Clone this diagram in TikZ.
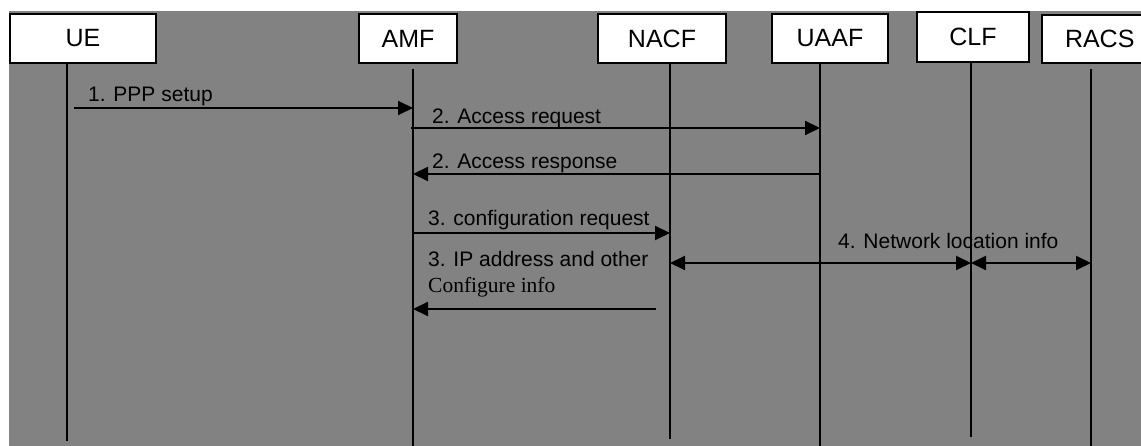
\documentclass[tikz,border=0pt]{standalone}
\usepackage{fontspec}
\setmainfont{Liberation Sans}
\newfontfamily\serifft{Liberation Serif}
\usetikzlibrary{arrows.meta}
\definecolor{bggray}{RGB}{130,130,130}
\begin{document}
\begin{tikzpicture}[x=1pt,y=-1pt,
  entity/.style={draw=black,line width=1.6pt,fill=white,inner sep=0pt,
     font=\fontsize{25}{30}\selectfont},
  life/.style={line width=1.6pt},
  msg/.style={line width=2pt,-{Triangle[length=15pt,width=14pt]}},
  bimsg/.style={line width=2pt,{Triangle[length=15pt,width=14pt]}-{Triangle[length=15pt,width=14pt]}},
  lbl/.style={anchor=base west,inner sep=0pt,font=\fontsize{21}{24}\selectfont}]
\useasboundingbox (0,0) rectangle (1141,446);
\fill[bggray] (9,11) rectangle (1141,446);
\begin{scope}
\clip (0,0) rectangle (1141,446);
% entity boxes
\node[entity,minimum width=146pt,minimum height=49pt] (ue) at (83,38.5) {UE};
\node[entity,minimum width=98pt,minimum height=49pt] (amf) at (408,38.5) {AMF};
\node[entity,minimum width=128pt,minimum height=49pt] (nacf) at (662,38.5) {NACF};
\node[entity,minimum width=116pt,minimum height=49pt] (uaaf) at (830,38.5) {UAAF};
\node[entity,minimum width=112pt,minimum height=50pt] (clf) at (973,37) {CLF};
\node[entity,minimum width=118pt,minimum height=48pt,text width=118pt,align=left] (racs) at (1101,39) {\hspace{23pt}RACS};
\end{scope}
% lifeline end points
\coordinate (ueT) at (67,63);   \coordinate (ueB) at (67,441);
\coordinate (amfT) at (413,69); \coordinate (amfB) at (413,446);
\coordinate (nacfT) at (670,63);\coordinate (nacfB) at (670,439);
\coordinate (uaafT) at (820,63);\coordinate (uaafB) at (820,446);
\coordinate (clfT) at (971,62); \coordinate (clfB) at (971,437);
\coordinate (racsT) at (1091,69);\coordinate (racsB) at (1091,446);
\draw[life] (ueT) -- (ueB);
\draw[life] (amfT) -- (amfB);
\draw[life] (nacfT) -- (nacfB);
\draw[life] (uaafT) -- (uaafB);
\draw[life] (clfT) -- (clfB);
\draw[life] (racsT) -- (racsB);
% message anchors
\coordinate (m1s) at (74,108);
\coordinate (m2s) at (411,128);
\coordinate (m3s) at (820,174);
\coordinate (m6s) at (656,309);
% messages
\draw[msg] (m1s) -- (m1s -| amfT);
\node[lbl] (l1) at (88,101.5) {1. PPP setup};
\draw[msg] (m2s) -- (m2s -| uaafT);
\node[lbl] (l2) at (432,124) {2. Access request};
\draw[msg] (m3s) -- (m3s -| amfT);
\node[lbl] (l3) at (432,169) {2. Access response};
\coordinate (m4s) at (413,233);
\draw[msg] (m4s) -- (m4s -| nacfT);
\node[lbl] (l4) at (428,225.5) {3. configuration request};
\coordinate (m5a) at (670,263);
\coordinate (m5b) at (971,263);
\coordinate (m5c) at (1091,263);
\draw[bimsg] (m5a) -- (m5b);
\draw[bimsg] (m5b) -- (m5c);
\node[lbl] (l5) at (838,249) {4. Network location info};
\draw[msg] (m6s) -- (m6s -| amfT);
\node[lbl] (l6) at (428,267) {3. IP address and other};
\node[lbl,font=\fontsize{21.5}{24}\selectfont\serifft] (l6b) at (428,293) {Configure info};
\end{tikzpicture}
\end{document}
